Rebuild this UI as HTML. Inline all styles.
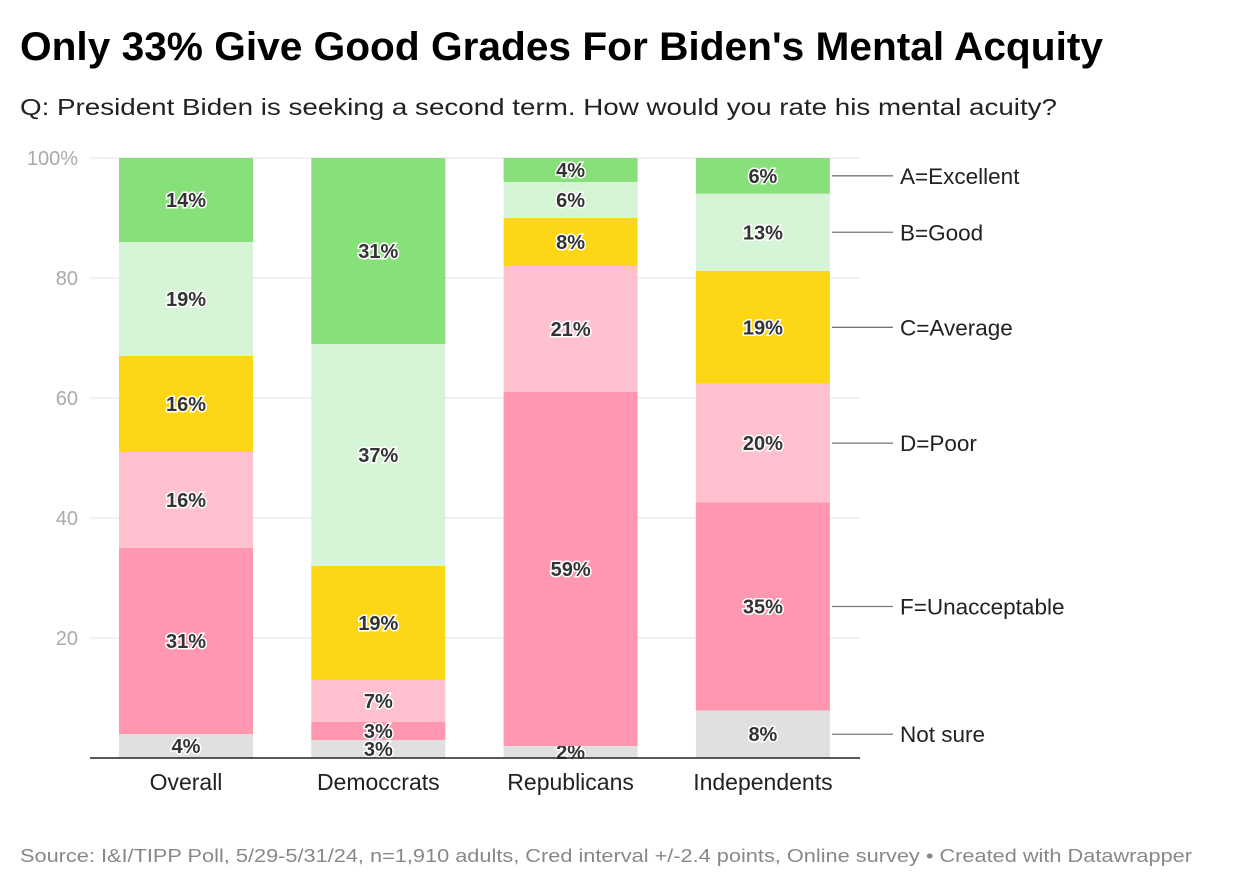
<!DOCTYPE html>
<html><head><meta charset="utf-8"><style>
body{margin:0;background:#fff;width:1240px;height:888px;overflow:hidden;font-family:"Liberation Sans",Arial,sans-serif}
</style></head><body>
<svg width="1240" height="888" xmlns="http://www.w3.org/2000/svg">
<text x="20" y="60" font-size="40" font-weight="bold" fill="#000" textLength="1083" lengthAdjust="spacingAndGlyphs">Only 33% Give Good Grades For Biden's Mental Acquity</text>
<text x="20" y="115" font-size="23" fill="#222" textLength="1037" lengthAdjust="spacingAndGlyphs">Q: President Biden is seeking a second term. How would you rate his mental acuity?</text>
<g id="grid"></g><g id="bars"></g><g id="legend"></g>
<text x="20" y="862" font-size="18" fill="#888" textLength="1172" lengthAdjust="spacingAndGlyphs">Source: I&amp;I/TIPP Poll, 5/29-5/31/24, n=1,910 adults, Cred interval +/-2.4 points, Online survey • Created with Datawrapper</text>
</svg>
<script>
const categories=["Overall","Democcrats","Republicans","Independents"];
const seriesNames=["Not sure","F=Unacceptable","D=Poor","C=Average","B=Good","A=Excellent"];
const notSure=[4,3,2,8];
const fGrade=[31,3,59,35];
const dGrade=[16,7,21,20];
const cGrade=[16,19,8,19];
const bGrade=[19,37,6,13];
const aGrade=[14,31,4,6];
const ticks=[0,20,40,60,80,100];
const colors=["#e0e0e0","#ff97b0","#ffc0cf","#fdd716","#d6f5d6","#88e07a"];
const series=[notSure,fGrade,dGrade,cGrade,bGrade,aGrade];
const NS="http://www.w3.org/2000/svg";
const y0=758,y1=158,left=90,right=860;
const y=v=>y0-(y0-y1)*v/100;
const xStart=i=>119+i*192.3, bw=134;
function mk(t,a,p){const e=document.createElementNS(NS,t);for(const k in a)e.setAttribute(k,a[k]);p.appendChild(e);return e;}
const grid=document.getElementById('grid');
ticks.forEach(t=>{
  if(t>0){const l=mk('line',{x1:left,x2:right,y1:y(t),y2:y(t),stroke:'#e3e3e3','stroke-width':1},grid);
  
  }
  const tx=mk('text',{x:78,y:y(t)+7,'font-size':20,fill:'#aaa','text-anchor':'end'},grid);
  tx.textContent=t===100?'100%':(t===0?'':t);
  
  
});
const bars=document.getElementById('bars');
const legY=[];
categories.forEach((c,i)=>{
  const total=series.reduce((s,a)=>s+a[i],0);
  let cum=0;
  series.forEach((arr,j)=>{
    const v=arr[i]*100/total;
    const top=y(cum+v),bot=y(cum);
    const r=mk('rect',{x:xStart(i),y:top,width:bw,height:bot-top,fill:colors[j]},bars);
    
    
    const t=mk('text',{x:xStart(i)+bw/2,y:(top+bot)/2+7,'font-size':20,'font-weight':'bold',fill:'#333','text-anchor':'middle',stroke:'#fff','stroke-width':3,'paint-order':'stroke'},bars);
    t.textContent=arr[i]+'%';
    
    
    if(i===categories.length-1)legY.push((top+bot)/2);
    cum+=v;
  });
  const xl=mk('text',{x:xStart(i)+bw/2,y:790,'font-size':23,fill:'#222','text-anchor':'middle'},bars);
  xl.textContent=c;
  
  
});
const base=mk('line',{x1:left,x2:right,y1:y0,y2:y0,stroke:'#222','stroke-width':1.5},bars);


const leg=document.getElementById('legend');
seriesNames.forEach((n,j)=>{
  const l=mk('line',{x1:832,x2:893,y1:legY[j],y2:legY[j],stroke:'#777','stroke-width':1.3},leg);
  
  
  const t=mk('text',{x:900,y:legY[j]+8,'font-size':22.5,fill:'#222'},leg);
  t.textContent=n;
  
  
});
</script>
</body></html>
